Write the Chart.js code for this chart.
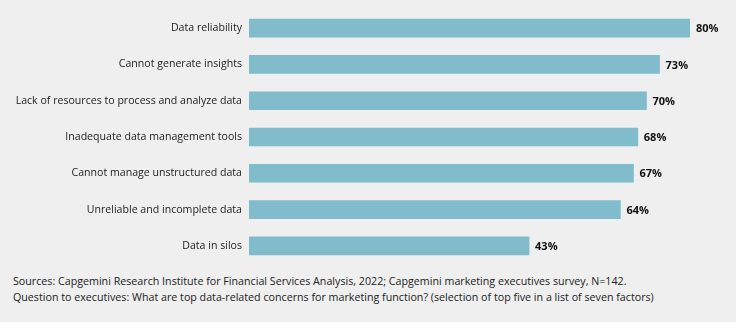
<!DOCTYPE html>
<html><head><meta charset="utf-8">
<script src="https://cdn.jsdelivr.net/npm/chart.js@4/dist/chart.umd.min.js"></script>
<style>
html,body{margin:0;padding:0;background:#efefef;}
#wrap{position:relative;width:736px;height:270px;}
#foot{position:absolute;left:13px;top:273px;font-family:"Open Sans",sans-serif;font-size:10.7px;line-height:16px;color:#222;white-space:nowrap;}
</style></head>
<body>
<div id="wrap"><canvas id="c" width="736" height="270"></canvas></div>
<div id="foot">Sources: Capgemini Research Institute for Financial Services Analysis, 2022; Capgemini marketing executives survey, N=142.<br>Question to executives: What are top data-related concerns for marketing function? (selection of top five in a list of seven factors)</div>
<script>
const categories = ["Data reliability","Cannot generate insights","Lack of resources to process and analyze data","Inadequate data management tools","Cannot manage unstructured data","Unreliable and incomplete data","Data in silos"];
const values = [80,73,70,68,67,64,43];
const valueLabels = ["80%","73%","70%","68%","67%","64%","43%"];
const axisMin = -21.4, axisMax = 80;

const labelPlugin = {
  id:'vl',
  afterDatasetsDraw(chart){
    const ctx = chart.ctx;
    const meta = chart.getDatasetMeta(0);
    ctx.save();
    ctx.font = 'bold 11px "Open Sans", sans-serif';
    ctx.fillStyle = '#111';
    ctx.textBaseline = 'middle';
    ctx.textAlign = 'left';
    meta.data.forEach((bar,i)=>{
      ctx.fillText(valueLabels[i], bar.x + 6, bar.y + 1);
    });
    ctx.restore();
  }
};

new Chart(document.getElementById('c'),{
  type:'bar',
  data:{labels:categories,datasets:[{data:values,backgroundColor:'#80bccc',base:axisMin,barThickness:18,borderWidth:0}]},
  options:{
    indexAxis:'y',responsive:false,animation:false,maintainAspectRatio:false,
    layout:{padding:{top:10,bottom:6,left:0,right:46}},
    plugins:{legend:{display:false},tooltip:{enabled:false}},
    scales:{
      x:{display:false,min:axisMin,max:axisMax},
      y:{grid:{display:false,drawTicks:false},border:{display:false},
         ticks:{color:'#222',font:{family:'"Open Sans", sans-serif',size:10.6},padding:7},
         afterFit(s){s.width=249;s.paddingTop=0;s.paddingBottom=0;}}
    }
  },
  plugins:[labelPlugin]
});
</script>
</body></html>
